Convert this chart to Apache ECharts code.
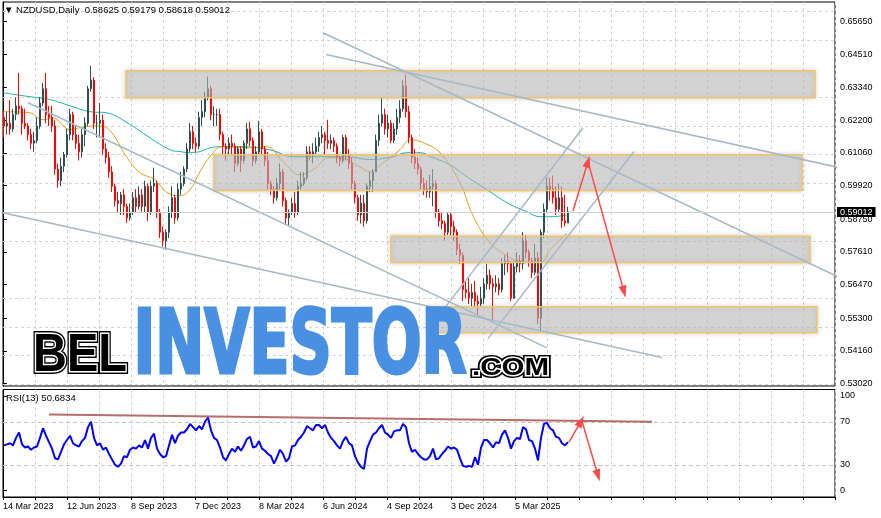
<!DOCTYPE html>
<html><head><meta charset="utf-8">
<script src="https://cdn.jsdelivr.net/npm/echarts@6/dist/echarts.min.js"></script>
<style>html,body{margin:0;padding:0;background:#fff}#c{width:881px;height:518px}</style>
</head><body><div id="c"></div>
<script>
// ---------- DATA ----------
const xTickLabels = ['14 Mar 2023','12 Jun 2023','8 Sep 2023','7 Dec 2023','8 Mar 2024','6 Jun 2024','4 Sep 2024','3 Dec 2024','5 Mar 2025'];
const priceTicks = ['0.53020','0.54160','0.55300','0.56470','0.57610','0.58750','0.59920','0.61060','0.62200','0.63340','0.64510','0.65650'];
const rsiTickPos = [6, 30, 70, 94];
const rsiTickText = ['0', '30', '70', '100'];
const barsPerCandle = 3; // each candle = 3 trading days
// prices in 1/10000
const opens = [6230,6200,6210,6190,6240,6270,6260,6210,6200,6170, 6140,6150,6200,6280,6330,6240,6230,6200,6050,6010,
 6060,6100,6170,6240,6170,6140,6110,6170,6210,6330, 6360,6210,6210,6220,6120,6090,6040,5990,5940,5930,
 5960,5920,5880,5900,5950,5920,5960,5920,5990,5900, 5990,6000,5900,5830,5800,5830,5900,5950,5880,5980,
 6000,6050,6120,6180,6140,6130,6230,6250,6300,6330, 6240,6240,6240,6170,6130,6120,6140,6130,6070,6120,
 6080,6140,6190,6150,6080,6110,6180,6120,6080,6000, 5980,5950,6000,6040,5940,5880,5900,5930,5900,5990,
 6000,6020,6110,6100,6110,6130,6160,6170,6150,6140, 6150,6130,6090,6080,6160,6100,6070,6000,5950,5890,
 5930,5870,5990,6010,6040,6150,6210,6240,6190,6210, 6150,6190,6230,6260,6340,6250,6160,6090,6070,6050,
 6000,5980,5970,5990,6000,5900,5870,5860,5830,5890, 5850,5830,5770,5750,5630,5620,5600,5620,5590,5580,
 5600,5650,5680,5650,5640,5650,5630,5720,5730,5720, 5600,5710,5730,5720,5800,5760,5730,5690,5740,5530,
 5830,5910,5990,5980,5950,5910,5950,5870,5862];
const closes = [6200,6210,6190,6240,6270,6260,6210,6200,6170,6140, 6150,6200,6280,6330,6240,6230,6200,6050,6010,6060,
 6100,6170,6240,6170,6140,6110,6170,6210,6330,6360, 6210,6210,6220,6120,6090,6040,5990,5940,5930,5960,
 5920,5880,5900,5950,5920,5960,5920,5990,5900,5990, 6000,5900,5830,5800,5830,5900,5950,5880,5980,6000,
 6050,6120,6180,6140,6130,6230,6250,6300,6330,6240, 6240,6240,6170,6130,6120,6140,6130,6070,6120,6080,
 6140,6190,6150,6080,6110,6180,6120,6080,6000,5980, 5950,6000,6040,5940,5880,5900,5930,5900,5990,6000,
 6020,6110,6100,6110,6130,6160,6170,6150,6140,6150, 6130,6090,6080,6160,6100,6070,6000,5950,5890,5930,
 5870,5990,6010,6040,6150,6210,6240,6190,6210,6150, 6190,6230,6260,6340,6250,6160,6090,6070,6050,6000,
 5980,5970,5990,6000,5900,5870,5860,5830,5890,5850, 5830,5770,5750,5630,5620,5600,5620,5590,5580,5600,
 5650,5680,5650,5640,5650,5630,5720,5730,5720,5600, 5710,5730,5720,5800,5760,5730,5690,5740,5530,5830,
 5910,5990,5980,5950,5910,5950,5870,5862,5901];
const lows = [6160,6170,6170,6180,6220,6240,6170,6190,6150,6120, 6110,6140,6190,6270,6210,6200,6180,6030,5985,5990,
 6040,6090,6150,6150,6120,6080,6090,6130,6200,6320, 6190,6160,6160,6100,6070,6020,5970,5920,5900,5890,
 5890,5862,5870,5890,5900,5910,5900,5900,5870,5890, 5970,5880,5810,5780,5769,5810,5880,5860,5870,5960,
 5990,6040,6110,6120,6110,6120,6200,6230,6290,6220, 6200,6200,6150,6100,6080,6100,6100,6040,6060,6040,
 6070,6120,6130,6060,6070,6100,6100,6060,5980,5960, 5930,5940,5980,5920,5860,5851,5890,5880,5890,5980,
 5990,6010,6080,6070,6100,6110,6140,6100,6120,6120, 6110,6070,6060,6070,6080,6050,5980,5930,5870,5860,
 5850,5860,5970,5970,6040,6130,6200,6170,6160,6140, 6140,6170,6210,6250,6230,6140,6070,6050,6030,5980,
 5960,5950,5950,5920,5880,5850,5840,5800,5820,5820, 5800,5750,5720,5590,5600,5580,5570,5570,5542,5570,
 5580,5630,5630,5520,5620,5610,5620,5680,5690,5590, 5600,5690,5690,5700,5740,5710,5670,5680,5510,5485,
 5810,5900,5940,5930,5890,5900,5845,5850,5862];
const highs = [6250,6250,6290,6260,6300,6385,6270,6260,6210,6190, 6180,6230,6300,6350,6385,6270,6270,6220,6070,6090,
 6110,6190,6260,6250,6200,6170,6190,6230,6340,6410, 6370,6240,6280,6240,6140,6110,6060,6000,5970,5970,
 5980,5930,5930,5970,5980,5990,5980,6010,6000,6010, 6055,6010,5910,5850,5840,5920,5990,5960,6000,6040,
 6060,6140,6210,6200,6160,6250,6290,6320,6372,6340, 6270,6260,6260,6180,6140,6160,6170,6140,6130,6130,
 6150,6210,6215,6160,6130,6218,6190,6130,6110,6010, 5990,6020,6070,6050,5950,5910,5950,5970,6010,6040,
 6040,6130,6130,6140,6160,6180,6200,6180,6222,6170, 6160,6140,6100,6170,6170,6120,6090,6010,5960,5960,
 5960,6000,6040,6050,6170,6240,6299,6260,6240,6220, 6210,6260,6290,6360,6380,6270,6170,6120,6090,6060,
 6020,6010,6030,6050,6010,5910,5900,5870,5900,5900, 5870,5840,5790,5760,5660,5670,5650,5660,5610,5640,
 5670,5720,5700,5670,5680,5670,5740,5750,5760,5730, 5730,5760,5750,5830,5820,5770,5740,5790,5760,5840,
 5930,6020,6020,6028,5990,6000,5990,5960,5918];
const rsiValues = [48,49,50,48,55,60,49,46,47,44, 46,47,55,64,57,51,45,36,35,42, 49,53,57,50,48,47,52,55,65,70,
 55,48,50,44,46,40,35,30,28,31, 38,37,44,46,45,48,46,53,45,55, 59,45,40,37,38,48,58,50,57,60,
 60,63,68,65,62,66,63,70,74,62, 55,53,46,37,34,40,45,42,47,43, 48,54,56,46,47,52,45,43,40,38,
 31,37,44,40,33,36,47,48,53,56, 60,66,64,62,67,67,64,67,60,55, 52,48,45,52,56,50,48,38,32,28,
 26,45,52,58,60,64,67,60,58,55, 61,62,62,68,65,50,42,44,40,37, 35,35,38,45,35,36,40,43,47,45,
 46,44,36,29,28,29,28,37,30,46, 53,53,50,46,51,50,58,62,55,45, 52,55,54,65,63,53,52,45,34,55,
 68,69,64,62,56,55,50,48,51];
// moving averages [trading-day index, price]
const maSlow = [[0,0.6316],[27,0.6302],[47,0.6292],[64,0.6274],[87,0.6250],[104,0.6246],[124,0.6212],[147,0.6159],[167,0.6117],[177,0.6111],[187,0.6107],[197,0.6111],[207,0.6124],[217,0.6128],[237,0.6128],[267,0.6117],[290,0.6093],[317,0.6093],[344,0.6093],[367,0.6083],[390,0.6093],[404,0.6107],[417,0.6107],[430,0.6090],[447,0.6065],[464,0.6023],[484,0.5978],[504,0.5933],[524,0.5901],[537,0.5884],[550,0.5884],[564,0.5891]];
const maFast = [[0,0.6250],[27,0.6246],[40,0.6222],[50,0.6229],[67,0.6187],[77,0.6194],[94,0.6201],[107,0.6184],[124,0.6090],[137,0.6037],[152,0.6013],[164,0.5968],[177,0.5957],[187,0.5978],[197,0.6041],[207,0.6093],[219,0.6128],[247,0.6124],[264,0.6128],[280,0.6076],[297,0.6030],[310,0.6048],[327,0.6090],[344,0.6083],[357,0.6058],[367,0.6041],[380,0.6072],[397,0.6117],[407,0.6152],[420,0.6142],[437,0.6107],[457,0.6002],[470,0.5887],[487,0.5793],[504,0.5748],[517,0.5727],[537,0.5724],[547,0.5769],[560,0.5814],[564,0.5825]];
// zones [fromDay, toDay, topPrice, bottomPrice]
const zones = [[123,812,0.6393,0.6299],[211,799,0.6100,0.5975],[388,807,0.5816,0.5724],[425,814,0.5570,0.5480]];
const trendLines = [[[320,0.6525],[839,0.5668]],[[323,0.6449],[878,0.6023]],[[25,0.6281],[544,0.5427]],[[0,0.5898],[659,0.5393]],[[442,0.5567],[580,0.6194]],[[485,0.5459],[631,0.6111]]];
const priceArrows = [[[570,0.5905],[585,0.6076]],[[585,0.6076],[621,0.5623]]];
const rsiArrows = [[[566,51],[578,70.5]],[[579,70.5],[595,20]]];
const rsiTrend = [[46,76.8],[649,70]];
const lastPrice = 0.59012;
const headerText = '\u25BC NZDUSD,Daily  0.58625 0.59179 0.58618 0.59012';
const rsiText = 'RSI(13) 50.6834';

// ---------- BUILD ----------
const FONT = '"Liberation Sans", Arial, sans-serif';
const priceTickValues = priceTicks.map(Number);
const candleData = opens.map((o, j) => [barsPerCandle * j + 1, o / 1e4, closes[j] / 1e4, lows[j] / 1e4, highs[j] / 1e4]);
const rsiData = rsiValues.map((v, j) => [barsPerCandle * j + 1, v]);
const dash = {color: '#d4d4d4', type: [3, 3], width: 1};

function textWidth(t, font) { const cx = document.createElement('canvas').getContext('2d'); cx.font = font; return cx.measureText(t).width; }
const fInv = 'bold 89px "Liberation Sans Narrow", "DejaVu Sans Condensed", "Liberation Sans", sans-serif';
const fBel = 'bold 54px "Liberation Sans", Arial, sans-serif';
const fCom = 'bold 24px "Liberation Sans", Arial, sans-serif';
const sInv = 333 / textWidth('INVESTOR', fInv);
const sBel = 94 / textWidth('BEL', fBel);
const sCom = 77 / textWidth('.COM', fCom);
function outlined(text, font, x, y, s) {
  const base = {type: 'text', x: x, y: y, scaleX: s, z: 10, silent: true};
  const st = {text: text, font: font, textAlign: 'left', verticalAlign: 'middle', textVerticalAlign: 'middle'};
  return [
    Object.assign({}, base, {style: Object.assign({}, st, {fill: '#000', stroke: '#000', lineWidth: 6})}),
    Object.assign({}, base, {style: Object.assign({}, st, {fill: 'rgba(0,0,0,0)', stroke: '#fff', lineWidth: 3})}),
    Object.assign({}, base, {style: Object.assign({}, st, {fill: '#000'})})
  ];
}

const trendSeries = trendLines.map((l, i) => ({
  type: 'line', xAxisIndex: 0, yAxisIndex: 0, data: l, showSymbol: false, clip: false, silent: true, z: 4,
  lineStyle: {color: '#a5b9c7', width: 1.5}, animation: false
}));
trendSeries[0].markLine = {
  silent: true, symbol: 'none', z: 1, label: {show: false},
  lineStyle: dash, data: priceTickValues.map(v => ({yAxis: v}))
};
trendSeries[1].markLine = {
  silent: true, symbol: ['none', 'triangle'], symbolSize: [8, 12], z: 6, label: {show: false},
  lineStyle: {color: '#ff4a4a', width: 1.5, type: 'solid'},
  data: priceArrows.map(a => [{coord: a[0]}, {coord: a[1]}])
};

const option = {
  animation: false,
  backgroundColor: '#fff',
  title: [
    {text: headerText, left: 4, top: 5, padding: 0, textStyle: {fontSize: 9.5, fontWeight: 'normal', color: '#000', fontFamily: FONT}},
    {text: rsiText, left: 6, top: 393, padding: 0, textStyle: {fontSize: 9.5, fontWeight: 'normal', color: '#000', fontFamily: FONT}}
  ],
  grid: [
    {left: 3, top: 2, width: 832, height: 384, show: true, borderColor: '#000', borderWidth: 1},
    {left: 3, top: 389.5, width: 832, height: 107.5, show: true, borderColor: '#000', borderWidth: 1}
  ],
  xAxis: [
    {gridIndex: 0, type: 'value', min: 0, max: 832, interval: 32, axisLine: {show: false}, axisTick: {show: false},
     axisLabel: {show: false}, splitLine: {show: true, lineStyle: dash}},
    {gridIndex: 1, type: 'value', min: 0, max: 832, interval: 32,
     axisLine: {show: true, lineStyle: {color: '#000'}}, axisTick: {show: true, length: 3, lineStyle: {color: '#000'}},
     axisLabel: {align: 'left', margin: 5, fontSize: 9, color: '#000', fontFamily: FONT,
       formatter: v => { const k = v / 64; return (Number.isInteger(k) && k < xTickLabels.length) ? xTickLabels[k] : ''; }},
     splitLine: {show: true, lineStyle: dash}}
  ],
  yAxis: [
    {gridIndex: 0, type: 'value', position: 'right', min: 0.52940, max: 0.66323, scale: true,
     axisLine: {show: true, lineStyle: {color: '#000'}},
     axisTick: {show: true, length: 4, customValues: priceTickValues, lineStyle: {color: '#000'}},
     axisLabel: {customValues: priceTickValues, margin: 5, fontSize: 9, color: '#000', fontFamily: FONT,
       formatter: v => { const i = priceTickValues.findIndex(t => Math.abs(t - v) < 1e-7); return i >= 0 ? priceTicks[i] : ''; }},
     splitLine: {show: false}},
    {gridIndex: 1, type: 'value', position: 'right', min: 0, max: 100,
     axisLine: {show: true, lineStyle: {color: '#000'}},
     axisTick: {show: true, length: 4, customValues: rsiTickPos, lineStyle: {color: '#000'}},
     axisLabel: {customValues: rsiTickPos, margin: 5, fontSize: 9, color: '#000', fontFamily: FONT,
       formatter: v => { const i = rsiTickPos.indexOf(Math.round(v)); return i >= 0 ? rsiTickText[i] : ''; }},
     splitLine: {show: false}}
  ],
  series: [
    {type: 'candlestick', xAxisIndex: 0, yAxisIndex: 0, data: candleData, encode: {x: 0, y: [1, 2, 3, 4]},
     barWidth: 2, silent: true, z: 2,
     itemStyle: {color: '#2f4f4f', color0: '#ff0000', borderColor: '#2f4f4f', borderColor0: '#ff0000', borderWidth: 1},
     markLine: {silent: true, symbol: 'none', z: 5,
       lineStyle: {color: '#cfcfcf', width: 1, type: 'solid'},
       label: {show: true, position: 'end', distance: 2, formatter: lastPrice.toFixed(5), backgroundColor: '#000', color: '#fff',
               padding: [1, 3, 0, 3], fontSize: 9, fontFamily: FONT},
       data: [{yAxis: lastPrice}]},
     markArea: {silent: true, z: 3,
       itemStyle: {color: 'rgba(200,200,200,0.55)', borderColor: '#f3c46e', borderWidth: 1.5, shadowBlur: 5, shadowColor: 'rgba(0,0,0,0.22)'},
       data: zones.map(zn => [{coord: [zn[0], zn[2]]}, {coord: [zn[1], zn[3]]}])}
    },
    {type: 'line', xAxisIndex: 0, yAxisIndex: 0, data: maSlow, smooth: 0.4, showSymbol: false, silent: true, z: 2,
     lineStyle: {color: '#20b2aa', width: 1}},
    {type: 'line', xAxisIndex: 0, yAxisIndex: 0, data: maFast, smooth: 0.4, showSymbol: false, silent: true, z: 2,
     lineStyle: {color: '#daa520', width: 1}},
    ...trendSeries,
    {type: 'line', xAxisIndex: 1, yAxisIndex: 1, data: rsiData, showSymbol: false, silent: true, z: 3,
     lineStyle: {color: '#0000ff', width: 2},
     markLine: {silent: true, symbol: 'none', z: 1, label: {show: false}, lineStyle: {color: '#c4c4c4', type: [4, 3], width: 1},
       data: [{yAxis: 30}, {yAxis: 70}]}},
    {type: 'line', xAxisIndex: 1, yAxisIndex: 1, data: rsiTrend, showSymbol: false, silent: true, clip: false, z: 4,
     lineStyle: {color: 'rgba(160,60,60,0.75)', width: 2},
     markLine: {silent: true, symbol: ['none', 'triangle'], symbolSize: [8, 12], z: 6, label: {show: false},
       lineStyle: {color: '#ff4a4a', width: 1.5, type: 'solid'},
       data: rsiArrows.map(a => [{coord: a[0]}, {coord: a[1]}])}}
  ],
  graphic: {elements: [
    ...outlined('BEL', fBel, 33, 356, sBel),
    {type: 'text', x: 133.5, y: 350, scaleX: sInv, z: 10, silent: true,
     style: {text: 'INVESTOR', font: fInv, fill: '#4a90e2', stroke: '#4a90e2', lineWidth: 3, textAlign: 'left',
             verticalAlign: 'middle', textVerticalAlign: 'middle', shadowBlur: 4, shadowColor: 'rgba(0,0,0,0.3)'}},
    ...outlined('.COM', fCom, 472, 368, sCom)
  ]}
};
const chart = echarts.init(document.getElementById('c'), null, {renderer: 'canvas'});
chart.setOption(option);
</script>
</body></html>
